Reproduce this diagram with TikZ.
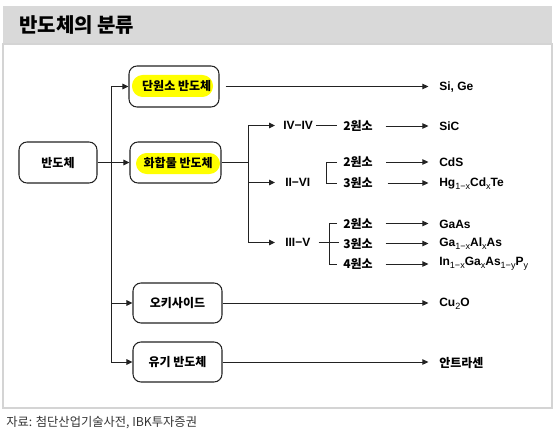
\documentclass[tikz,border=0pt]{standalone}
\usepackage{fontspec}
\setmainfont{Liberation Sans}
\newfontfamily\kr{Noto Sans CJK KR}
\usetikzlibrary{arrows.meta,calc}
\definecolor{bandgray}{HTML}{D9D9D9}
\definecolor{framegray}{HTML}{D4D4D4}
\definecolor{hl}{HTML}{FFFF00}
\definecolor{lnc}{HTML}{222222}
\newcommand{\sbs}[1]{\raisebox{-0.45ex}{\fontsize{6.8pt}{7pt}\selectfont\mdseries #1}}
\tikzset{
  box/.style={draw=lnc, line width=0.8pt, rounded corners=6pt, inner sep=0pt,
    font=\kr\bfseries\fontsize{9pt}{10pt}\selectfont},
  kt/.style={anchor=west, inner sep=0pt, font=\kr\bfseries\fontsize{9pt}{10pt}\selectfont},
  lt/.style={anchor=west, inner sep=0pt, font=\bfseries\fontsize{9pt}{10pt}\selectfont},
  ln/.style={draw=lnc, line width=0.75pt},
  arr/.style={ln, -{Triangle[length=4.5pt,width=4.2pt]}},
}
\begin{document}
\begin{tikzpicture}[x=0.75pt,y=-0.75pt]
\useasboundingbox (0,0) rectangle (557,435);
% title band and frame
\fill[bandgray] (3,6) rectangle (552,44);
\draw[framegray, line width=0.9pt] (3,44) rectangle (552,408);
\node[anchor=west, inner sep=0pt, font=\kr\bfseries\fontsize{15pt}{17pt}\selectfont] (title) at (19,25.5) {반도체의 분류};
% highlights
\fill[hl, rounded corners=8pt] (132,75) rectangle (213,97);
\fill[hl, rounded corners=8pt] (136,153) rectangle (220,174);
% main boxes
\node[box, minimum width=58.5pt, minimum height=30.75pt] (bd) at (58,162.5) {반도체};
\node[box, minimum width=67.5pt, minimum height=30.75pt] (dan) at (174,86.5) {\hspace{4pt}단원소 반도체};
\node[box, minimum width=68.25pt, minimum height=30.75pt] (hwa) at (175.5,162.5) {\hspace{4pt}화합물 반도체};
\node[box, minimum width=66.75pt, minimum height=30pt] (oxi) at (177.5,303) {오키사이드};
\node[box, minimum width=66.75pt, minimum height=30pt] (org) at (177.5,362) {유기 반도체};
% trunk
\coordinate (trunk) at (111,162.5);
\draw[ln] (trunk |- dan.west) -- (trunk |- org.west);
\draw[arr] (bd.east) -- (hwa.west);
\draw[arr] (trunk |- dan.west) -- (dan.west);
\draw[arr] (trunk |- oxi.west) -- (oxi.west);
\draw[arr] (trunk |- org.west) -- (org.west);
% right-side results
\node[lt] (sige) at (439,87) {Si, Ge};
\node[lt] (sic) at (439,126) {SiC};
\node[lt] (cds) at (439,162) {CdS};
\node[lt] (hgcd) at (439,184) {Hg\sbs{1−x}Cd\sbs{x}Te};
\node[lt] (gaas) at (439,224) {GaAs};
\node[lt] (gaal) at (439,244) {Ga\sbs{1−x}Al\sbs{x}As};
\node[lt] (ingap) at (439,264) {In\sbs{1−x}Ga\sbs{x}As\sbs{1−y}P\sbs{y}};
\node[lt] (cuo) at (439,304) {Cu\sbs{2}O};
\node[kt] (anth) at (439,363) {안트라센};
\draw[arr, shorten <=4.5pt, shorten >=8pt] (dan.east) -- (dan.east -| sige.west);
\draw[arr, shorten >=8pt] (oxi.east) -- (oxi.east -| cuo.west);
\draw[arr, shorten >=8pt] (org.east) -- (org.east -| anth.west);
% compound branch
\coordinate (spine) at (248,162.5);
\node[lt] (iviv) at (283,125.5) {IV−IV};
\node[lt] (iivi) at (285,182.5) {II−VI};
\node[lt] (iiiv) at (285,242.5) {III−V};
\draw[ln] (hwa.east) -- (spine);
\draw[ln] (spine |- iviv.west) -- (spine |- iiiv.west);
\draw[arr, shorten >=6pt] (spine |- iviv.west) -- (iviv.west);
\draw[arr, shorten >=7.5pt] (spine |- iivi.west) -- (iivi.west);
\draw[arr, shorten >=7.5pt] (spine |- iiiv.west) -- (iiiv.west);
% element counts
\node[kt] (wa) at (343,126) {2원소};
\node[kt] (wb) at (343,162) {2원소};
\node[kt] (wc) at (343,183) {3원소};
\node[kt] (wd) at (343,223.5) {2원소};
\node[kt] (we) at (343,243.5) {3원소};
\node[kt] (wf) at (343,264) {4원소};
\draw[ln, shorten <=2pt, shorten >=4.5pt] (iviv.east) -- (iviv.east -| wa.west);
\coordinate (brA) at (326,170);
\coordinate (brB) at (329,240);
\draw[ln] ([xshift=-4.5pt]wb.west) -| (brA |- wc.west) -- ([xshift=-4.5pt]wc.west);
\draw[ln] ([xshift=-4.5pt]wd.west) -| (brB |- wf.west) -- ([xshift=-4.5pt]wf.west);
\draw[ln, shorten <=6pt, shorten >=3pt] (iiiv.east) -- (iiiv.east -| we.west);
\draw[arr, shorten <=9.5pt, shorten >=8pt] (wa.east) -- (wa.east -| sic.west);
\draw[arr, shorten <=10pt, shorten >=8pt] (wb.east) -- (wb.east -| cds.west);
\draw[arr, shorten <=11pt, shorten >=8pt] (wc.east) -- (wc.east -| hgcd.west);
\draw[arr, shorten <=9.5pt, shorten >=8pt] (wd.east) -- (wd.east -| gaas.west);
\draw[arr, shorten <=9.5pt, shorten >=8pt] (we.east) -- (we.east -| gaal.west);
\draw[arr, shorten <=9.5pt, shorten >=8pt] (wf.east) -- (wf.east -| ingap.west);
% source
\node[anchor=west, inner sep=0pt, text=black!80, font=\kr\fontsize{9.2pt}{10pt}\selectfont] (src) at (6,423) {자료: 첨단산업기술사전, IBK투자증권};
\end{tikzpicture}
\end{document}
